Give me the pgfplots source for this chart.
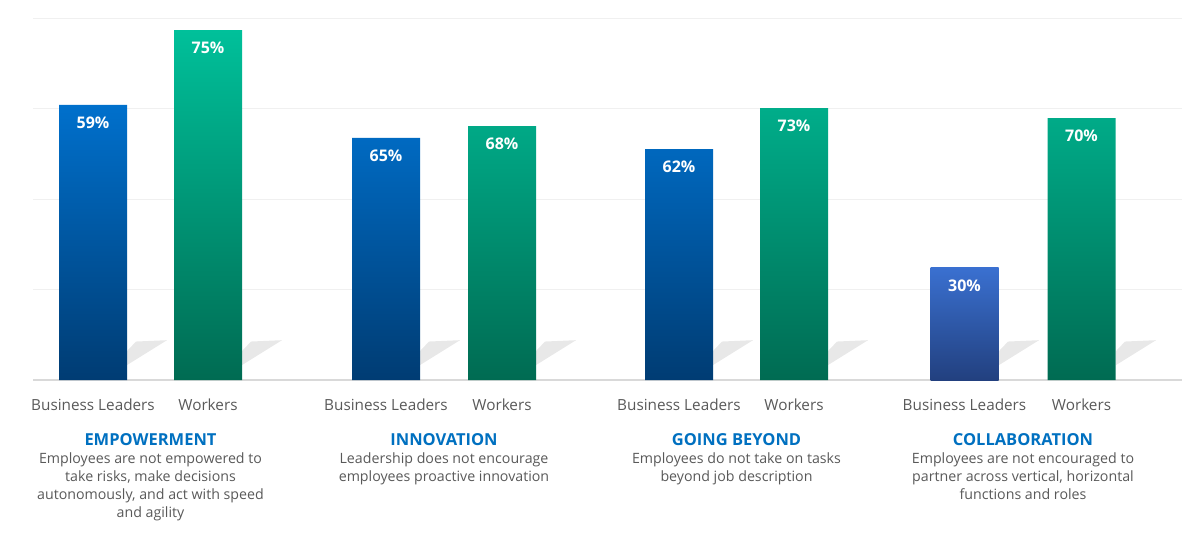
\documentclass[border=0pt]{standalone}
\usepackage{pgfplots}
\pgfplotsset{compat=1.18}
\usepackage{fontspec}
\setmainfont{Open Sans}

\definecolor{txtgray}{HTML}{595959}
\definecolor{titleblue}{HTML}{0070C0}
\definecolor{gridgray}{HTML}{F0F0F0}
\definecolor{basegray}{HTML}{D9D9D9}
\definecolor{bluetop}{HTML}{0070CC}
\definecolor{bluebot}{HTML}{003C73}
\definecolor{lbluetop}{HTML}{3A70D0}
\definecolor{lbluebot}{HTML}{22407F}
\definecolor{greentop}{HTML}{00C09A}
\definecolor{greenbot}{HTML}{006B52}

\begin{document}
\begin{tikzpicture}
\begin{axis}[
  scale only axis,
  width=1149pt, height=362pt,
  xmin=33, xmax=1182,
  ymin=0, ymax=80,
  axis line style={draw=none},
  major tick length=0pt,
  ytick={20,40,60,80}, yticklabels={},
  ymajorgrids,
  grid style={color=gridgray, line width=0.8pt},
  extra y ticks={0}, extra y tick labels={},
  extra y tick style={grid style={color=basegray, line width=1.2pt}},
  xtick={93,208,386,502,679,794,964.5,1081.5},
  xticklabels={Business Leaders,Workers,Business Leaders,Workers,Business Leaders,Workers,Business Leaders,Workers},
  xticklabel style={font=\fontsize{15.3}{18}\selectfont, text=txtgray, yshift=-15pt},
  clip=false,
  point meta=explicit symbolic,
  nodes near coords={\pgfplotspointmeta\%},
  every node near coord/.append style={anchor=center, yshift=-18pt, text=white, font=\bfseries\fontsize{16}{18}\selectfont},
]

% bar shadows (decoration)
\pgfplotsinvokeforeach{127,242,420,536,713,828,999,1116}{
  \fill[black!9]
    (axis cs:#1,3.3) -- (axis cs:#1,6.4) -- (axis cs:#1+9,8.5) -- (axis cs:#1+40,8.8) -- cycle;
}

% Business Leaders
\addplot[ybar, bar width=68, draw=none, top color=bluetop, bottom color=bluebot]
  coordinates {(93,60.8) [59] (386,53.5) [65] (679,51.0) [62]};
\addplot[ybar, bar width=68, draw=none, top color=lbluetop, bottom color=lbluebot]
  coordinates {(964.5,24.8) [30]};
% Workers
\addplot[ybar, bar width=68, draw=none, top color=greentop, bottom color=greenbot]
  coordinates {(208,77.3) [75] (502,56.1) [68] (794,60.1) [73] (1081.5,57.9) [70]};

\begin{scope}[every node/.style={align=center, inner sep=0pt}]
\node[text=titleblue, font=\bfseries\fontsize{16.5}{18}\selectfont] at (axis cs:150.5,-13.26) {EMPOWERMENT};
\node[text=titleblue, font=\bfseries\fontsize{16.5}{18}\selectfont] at (axis cs:444,-13.26) {INNOVATION};
\node[text=titleblue, font=\bfseries\fontsize{16.5}{18}\selectfont] at (axis cs:736.5,-13.26) {GOING BEYOND};
\node[text=titleblue, font=\bfseries\fontsize{16.5}{18}\selectfont] at (axis cs:1023,-13.26) {COLLABORATION};

\node[anchor=north, text=txtgray, font=\fontsize{14.2}{17.8}\selectfont] at (axis cs:150.5,-16.1)
  {Employees are not empowered to\\take risks, make decisions\\autonomously, and act with speed\\and agility};
\node[anchor=north, text=txtgray, font=\fontsize{14.2}{17.8}\selectfont] at (axis cs:444,-16.1)
  {Leadership does not encourage\\employees proactive innovation};
\node[anchor=north, text=txtgray, font=\fontsize{14.2}{17.8}\selectfont] at (axis cs:736.5,-16.1)
  {Employees do not take on tasks\\beyond job description};
\node[anchor=north, text=txtgray, font=\fontsize{14.2}{17.8}\selectfont] at (axis cs:1023,-16.1)
  {Employees are not encouraged to\\partner across vertical, horizontal\\functions and roles};
\end{scope}
\end{axis}
\useasboundingbox (-33pt,-167pt) rectangle (1171pt,380pt);
\end{tikzpicture}
\end{document}
